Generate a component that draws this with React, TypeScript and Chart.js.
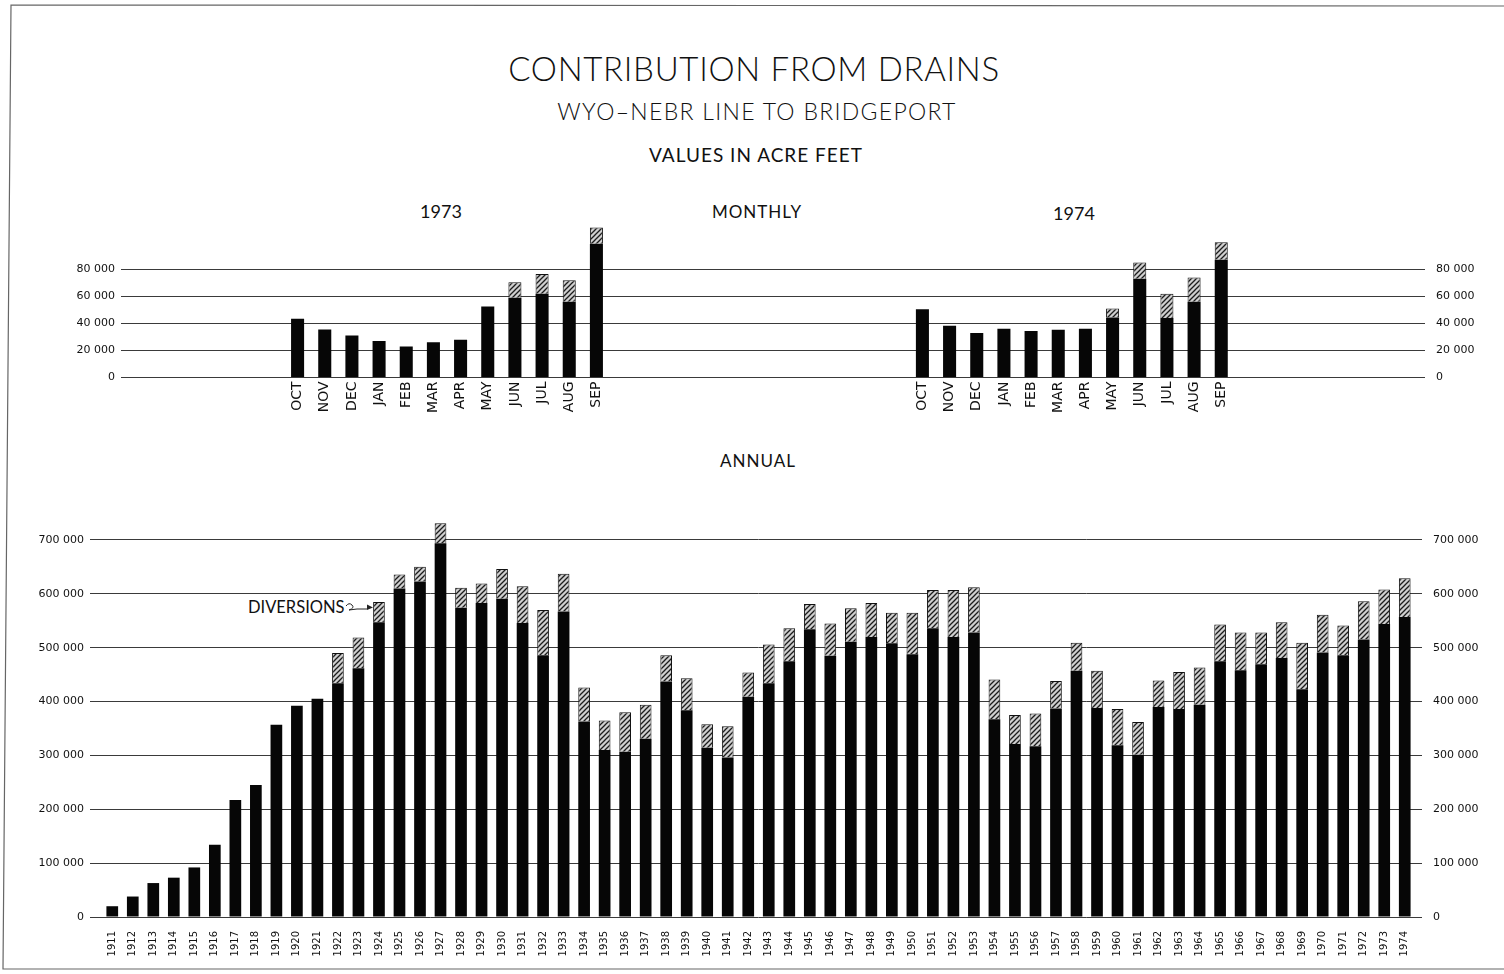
import React, { useEffect, useRef } from "react";
import { Chart, registerables } from "chart.js";

Chart.register(...registerables);

// ---------- DATA ----------
const monthNames = ["OCT", "NOV", "DEC", "JAN", "FEB", "MAR", "APR", "MAY", "JUN", "JUL", "AUG", "SEP"];
const drains1973 = [43500, 35500, 31000, 27000, 23000, 26000, 28000, 52500, 59000, 62000, 56000, 99000];
const diversions1973 = [0, 0, 0, 0, 0, 0, 0, 0, 11500, 14500, 16000, 12000];
const drains1974 = [50500, 38300, 33000, 36000, 34400, 35400, 36000, 44400, 73000, 44000, 56000, 87000];
const diversions1974 = [0, 0, 0, 0, 0, 0, 0, 6600, 12000, 18000, 18000, 13000];
const monthlyTicks = [0, 20000, 40000, 60000, 80000];

const years = [
  "1911", "1912", "1913", "1914", "1915", "1916", "1917", "1918", "1919", "1920",
  "1921", "1922", "1923", "1924", "1925", "1926", "1927", "1928", "1929", "1930",
  "1931", "1932", "1933", "1934", "1935", "1936", "1937", "1938", "1939", "1940",
  "1941", "1942", "1943", "1944", "1945", "1946", "1947", "1948", "1949", "1950",
  "1951", "1952", "1953", "1954", "1955", "1956", "1957", "1958", "1959", "1960",
  "1961", "1962", "1963", "1964", "1965", "1966", "1967", "1968", "1969", "1970",
  "1971", "1972", "1973", "1974",
];
const annualDrains = [
  20000, 38000, 63000, 73000, 92000, 134000, 217000, 245000, 357000, 392000,
  405000, 434000, 462000, 547000, 610000, 623000, 694000, 574000, 583000, 591000,
  546000, 486000, 567000, 363000, 310000, 307000, 331000, 437000, 384000, 314000,
  296000, 409000, 434000, 475000, 534000, 485000, 511000, 520000, 508000, 488000,
  536000, 520000, 528000, 367000, 321000, 317000, 387000, 457000, 388000, 319000,
  301000, 390000, 386000, 394000, 475000, 458000, 469000, 481000, 423000, 491000,
  486000, 515000, 544000, 557000,
];
const annualDiversions = [
  0, 0, 0, 0, 0, 0, 0, 0, 0, 0,
  0, 56000, 57000, 38000, 26000, 27000, 37000, 37000, 36000, 55000,
  68000, 84000, 70000, 63000, 55000, 73000, 63000, 49000, 59000, 44000,
  58000, 45000, 72000, 61000, 47000, 60000, 62000, 63000, 57000, 77000,
  71000, 87000, 84000, 74000, 54000, 61000, 51000, 52000, 69000, 67000,
  61000, 49000, 69000, 69000, 68000, 70000, 59000, 66000, 86000, 70000,
  55000, 71000, 64000, 72000,
];
const annualTicks = [0, 100000, 200000, 300000, 400000, 500000, 600000, 700000];

// ---------- HELPERS ----------
const TICK_FONT = "'DejaVu Sans', sans-serif";
const LETTER_FONT = "Lato, 'DejaVu Sans', sans-serif";
const GRID = "#3a3a3a";
const INK = "#111";

function fmt(v: number | string): string {
  const n = Number(v);
  if (n === 0) return "0";
  return String(n).replace(/\B(?=(\d{3})+(?!\d))/g, " ");
}

function makeHatch(): CanvasPattern | string {
  const c = document.createElement("canvas");
  c.width = 5;
  c.height = 5;
  const g = c.getContext("2d");
  if (!g) return "#999";
  g.fillStyle = "#cfcfcf";
  g.fillRect(0, 0, 5, 5);
  g.strokeStyle = "#1c1c1c";
  g.lineWidth = 1.3;
  g.beginPath();
  g.moveTo(-1, 6);
  g.lineTo(6, -1);
  g.moveTo(-1, 1);
  g.lineTo(1, -1);
  g.moveTo(4, 6);
  g.lineTo(6, 4);
  g.stroke();
  return g.createPattern(c, "repeat") || "#999";
}

function pad<T>(n: number, v: T): T[] {
  return new Array(n).fill(v);
}

// ---------- COMPONENT ----------
export default function App() {
  const monthlyRef = useRef<HTMLCanvasElement | null>(null);
  const annualRef = useRef<HTMLCanvasElement | null>(null);

  useEffect(() => {
    const hatch = makeHatch();
    const nz = (arr: number[]) => arr.map((v) => (v ? v : null));

    // monthly: one category axis holding both water years with empty gap slots
    const gapL = 6, gapM = 11, gapR = 7;
    const monthlyLabels = [...pad(gapL, ""), ...monthNames, ...pad(gapM, ""), ...monthNames, ...pad(gapR, "")];
    const monthlyDrains = [...pad(gapL, null), ...drains1973, ...pad(gapM, null), ...drains1974, ...pad(gapR, null)];
    const monthlyDiv = [...pad(gapL, null), ...nz(diversions1973), ...pad(gapM, null), ...nz(diversions1974), ...pad(gapR, null)];

    const yTickFont = { family: TICK_FONT, size: 11 };

    const monthly = new Chart(monthlyRef.current as HTMLCanvasElement, {
      type: "bar",
      data: {
        labels: monthlyLabels,
        datasets: [
          { data: monthlyDrains as any, backgroundColor: "#060606", borderWidth: 0, barPercentage: 0.48, categoryPercentage: 1 },
          { data: monthlyDiv as any, backgroundColor: hatch as any, borderColor: "#111", borderWidth: 1, barPercentage: 0.48, categoryPercentage: 1 },
        ],
      },
      options: {
        animation: false,
        responsive: false,
        maintainAspectRatio: false,
        events: [],
        layout: { padding: { top: 22, left: 0, right: 0, bottom: 0 } },
        plugins: { legend: { display: false }, tooltip: { enabled: false } },
        scales: {
          x: {
            stacked: true,
            grid: { display: false },
            border: { display: false },
            ticks: { autoSkip: false, maxRotation: 90, minRotation: 90, padding: -4, color: INK, font: { family: TICK_FONT, size: 14 } },
            afterFit: (s: any) => { s.height = 62.5; },
          },
          y: {
            stacked: true,
            position: "left",
            min: 0,
            max: 115000,
            afterBuildTicks: (axis: any) => { axis.ticks = monthlyTicks.map((v) => ({ value: v })); },
            grid: { color: GRID, lineWidth: 1, drawTicks: false },
            border: { display: false },
            ticks: { padding: 6, color: INK, font: yTickFont, callback: (v: any) => fmt(v) },
            afterFit: (s: any) => { s.width = 121; },
          },
          y2: {
            position: "right",
            min: 0,
            max: 115000,
            afterBuildTicks: (axis: any) => { axis.ticks = monthlyTicks.map((v) => ({ value: v })); },
            grid: { drawOnChartArea: false, drawTicks: false },
            border: { display: false },
            ticks: { padding: 11, color: INK, font: yTickFont, callback: (v: any) => fmt(v) },
            afterFit: (s: any) => { s.width = 79; },
          },
        },
      } as any,
    });

    const annual = new Chart(annualRef.current as HTMLCanvasElement, {
      type: "bar",
      data: {
        labels: years,
        datasets: [
          { data: annualDrains, backgroundColor: "#060606", borderWidth: 0, barPercentage: 0.57, categoryPercentage: 1 },
          { data: nz(annualDiversions) as any, backgroundColor: hatch as any, borderColor: "#111", borderWidth: 1, barPercentage: 0.57, categoryPercentage: 1 },
        ],
      },
      options: {
        animation: false,
        responsive: false,
        maintainAspectRatio: false,
        events: [],
        layout: { padding: { top: 23, left: 0, right: 0, bottom: 0 } },
        plugins: { legend: { display: false }, tooltip: { enabled: false } },
        scales: {
          x: {
            stacked: true,
            grid: { display: false },
            border: { display: false },
            ticks: { autoSkip: false, maxRotation: 90, minRotation: 90, padding: 6, color: INK, font: { family: TICK_FONT, size: 10 } },
            afterFit: (s: any) => { s.height = 53; },
          },
          y: {
            stacked: true,
            position: "left",
            min: 0,
            max: 750000,
            afterBuildTicks: (axis: any) => { axis.ticks = annualTicks.map((v) => ({ value: v })); },
            grid: { color: GRID, lineWidth: 1, drawTicks: true, tickLength: 12, tickColor: GRID },
            border: { display: false },
            ticks: { padding: 6, color: INK, font: yTickFont, callback: (v: any) => fmt(v) },
            afterFit: (s: any) => { s.width = 102; },
          },
          y2: {
            position: "right",
            min: 0,
            max: 750000,
            afterBuildTicks: (axis: any) => { axis.ticks = annualTicks.map((v) => ({ value: v })); },
            grid: { drawOnChartArea: false, drawTicks: true, tickLength: 7, color: GRID, tickColor: GRID },
            border: { display: false },
            ticks: { padding: 11, color: INK, font: yTickFont, callback: (v: any) => fmt(v) },
            afterFit: (s: any) => { s.width = 89; },
          },
        },
      } as any,
    });

    return () => {
      monthly.destroy();
      annual.destroy();
    };
  }, []);

  const txt = (extra: React.CSSProperties): React.CSSProperties => ({
    position: "absolute",
    fontFamily: LETTER_FONT,
    lineHeight: 1,
    color: INK,
    whiteSpace: "nowrap",
    ...extra,
  });
  const centered = (cx: number, top: number, size: number, extra: React.CSSProperties = {}) =>
    txt({ left: cx, top, fontSize: size, transform: "translateX(-50%)", ...extra });

  return (
    <div style={{ position: "absolute", left: 0, top: 0, width: 1504, height: 974, background: "#fff", overflow: "hidden" }}>
      <div style={centered(754, 52, 33, { fontWeight: 300, letterSpacing: 0.7 })}>CONTRIBUTION FROM DRAINS</div>
      <div style={centered(757, 100, 23, { letterSpacing: 1.3, fontWeight: 300 })}>WYO–NEBR LINE TO BRIDGEPORT</div>
      <div style={centered(756, 145, 19, { letterSpacing: 1 })}>VALUES IN ACRE FEET</div>
      <div style={centered(441, 202, 18)}>1973</div>
      <div style={centered(757, 203, 17, { letterSpacing: 1 })}>MONTHLY</div>
      <div style={centered(1074, 204, 18)}>1974</div>
      <div style={centered(758, 452, 17, { letterSpacing: 1 })}>ANNUAL</div>
      <div style={txt({ left: 248, top: 599, fontSize: 16.5 })}>DIVERSIONS</div>

      <canvas
        ref={monthlyRef}
        width={1504}
        height={240}
        style={{ position: "absolute", left: 0, top: 200, width: 1504, height: 240, display: "block" }}
      />
      <canvas
        ref={annualRef}
        width={1504}
        height={480}
        style={{ position: "absolute", left: 0, top: 490, width: 1504, height: 480, display: "block" }}
      />

      <svg width={1504} height={974} style={{ position: "absolute", left: 0, top: 0, pointerEvents: "none" }}>
        <path d="M 1504 6 L 11 5 L 3 969 L 1504 969" fill="none" stroke="#666" strokeWidth={1.2} />
        <path d="M 346 606 q 3 -4 6 -1 q 3 3 -3 5 l 8 -1 l 10 0" fill="none" stroke="#222" strokeWidth={1} />
        <path d="M 367 604.5 L 373 607.5 L 367 610 Z" fill="#222" />
      </svg>
    </div>
  );
}
